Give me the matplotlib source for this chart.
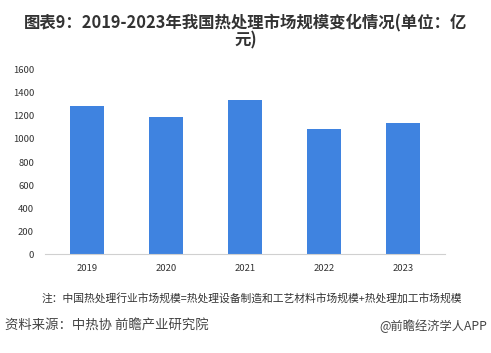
import matplotlib
matplotlib.use('Agg')
import matplotlib.pyplot as plt

plt.rcParams['font.family'] = ['Noto Sans CJK SC', 'DejaVu Sans']

years = ['2019', '2020', '2021', '2022', '2023']
market_size = [1290, 1195, 1340, 1090, 1135]
y_ticks = [0, 200, 400, 600, 800, 1000, 1200, 1400, 1600]

title = '图表9：2019-2023年我国热处理市场规模变化情况(单位：亿\n元)'
note = '注：中国热处理行业市场规模=热处理设备制造和工艺材料市场规模+热处理加工市场规模'
source = '资料来源：中热协 前瞻产业研究院'
brand = '@前瞻经济学人APP'

fig = plt.figure(figsize=(4.91, 3.53), dpi=100)
ax = fig.add_axes([0.092, 0.28, 0.814, 0.522])

x = list(range(len(years)))
ax.bar(x, market_size, width=0.42, color='#3F83E0')

ax.set_xlim(-0.53, len(years) - 0.47)
ax.set_ylim(0, 1600)
ax.set_yticks(y_ticks)
ax.set_xticks(x)
ax.set_xticklabels(years)
ax.tick_params(axis='both', length=0, labelsize=6.8, colors='#333333')
ax.tick_params(axis='y', pad=8)
ax.tick_params(axis='x', pad=7)

for side in ['top', 'right', 'left']:
    ax.spines[side].set_visible(False)
ax.spines['bottom'].set_color('#d0d0d0')
ax.spines['bottom'].set_linewidth(0.8)

fig.text(0.5, 0.96, title, ha='center', va='top', fontsize=11.8,
         fontweight='bold', color='#333333', linespacing=0.95)
fig.text(0.513, 0.155, note, ha='center', va='center', fontsize=7.75, color='#333333')
fig.text(0.01, 0.077, source, ha='left', va='center', fontsize=9.6, color='#444444')
fig.text(0.993, 0.077, brand, ha='right', va='center', fontsize=8.8, color='#444444')

fig.savefig('out.png', dpi=100, facecolor='white')
plt.close(fig)
